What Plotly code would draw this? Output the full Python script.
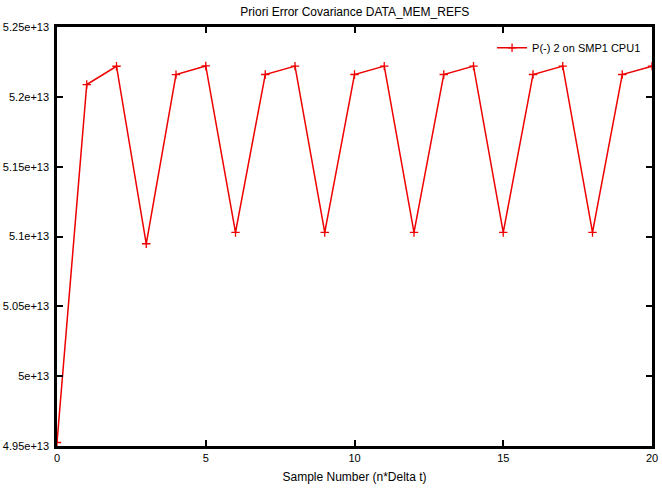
import plotly.graph_objects as go

samples = list(range(21))
values = [4.9525e13, 5.2088e13, 5.2219e13, 5.0948e13, 5.2159e13, 5.2221e13, 5.1029e13,
          5.2160e13, 5.2220e13, 5.1029e13, 5.2160e13, 5.2220e13, 5.1029e13, 5.2160e13,
          5.2220e13, 5.1029e13, 5.2160e13, 5.2220e13, 5.1029e13, 5.2160e13, 5.2220e13]
series_name = "P(-) 2 on SMP1 CPU1"
y_tickvals = [4.95e13, 5.0e13, 5.05e13, 5.1e13, 5.15e13, 5.2e13, 5.25e13]
y_ticktext = ["4.95e+13", "5e+13", "5.05e+13", "5.1e+13", "5.15e+13", "5.2e+13", "5.25e+13"]
x_tickvals = [0, 5, 10, 15, 20]

fig = go.Figure()
fig.add_trace(go.Scatter(
    x=samples, y=values, mode="lines+markers", name=series_name,
    line=dict(color="#ee0000", width=1.5),
    marker=dict(symbol="cross-thin", size=6, line=dict(color="#ee0000", width=1.3)),
))

axis_common = dict(
    showgrid=False, zeroline=False, showline=True, linecolor="black", linewidth=2.5,
    mirror="ticks", ticks="inside", ticklen=6, tickwidth=2, tickcolor="black",
    automargin=False,
    tickfont=dict(family="Liberation Sans, Arial, sans-serif", size=11, color="black"),
)

fig.update_layout(
    width=662, height=490,
    margin=dict(l=57, r=10, t=27, b=44),
    plot_bgcolor="white", paper_bgcolor="white",
    font=dict(family="Liberation Sans, Arial, sans-serif", size=11, color="black"),
    title=dict(text="Priori Error Covariance DATA_MEM_REFS", x=0.536, xanchor="center",
               y=1 - 12 / 490, yref="container", yanchor="middle",
               font=dict(size=12, color="black")),
    xaxis=dict(range=[0, 20], tickvals=x_tickvals,
               title=dict(text="Sample Number (n*Delta t)", standoff=10,
                          font=dict(size=12, color="black")),
               **axis_common),
    yaxis=dict(range=[4.95e13, 5.25e13], tickvals=y_tickvals, ticktext=y_ticktext,
               ticklabelstandoff=3, **axis_common),
    showlegend=True,
    legend=dict(x=0.99, xanchor="right", y=0.985, yanchor="top",
                bgcolor="rgba(0,0,0,0)", font=dict(size=11, color="black")),
)

fig.write_html("out.html")
